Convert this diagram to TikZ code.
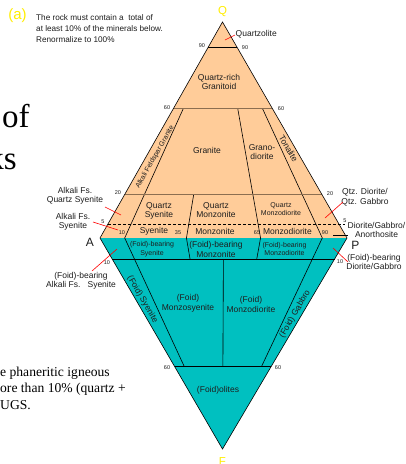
\documentclass[tikz,border=0pt]{standalone}
\usepackage{fontspec}
\setmainfont{Liberation Sans}
\newfontfamily\serifx{Liberation Serif}
\usetikzlibrary{calc}
\definecolor{peach}{RGB}{255,204,153}
\definecolor{tealx}{RGB}{0,192,192}
\definecolor{brownline}{RGB}{140,110,80}
\definecolor{yel}{RGB}{255,238,0}
\definecolor{txt}{RGB}{30,30,30}
\begin{document}
\begin{tikzpicture}[x=1pt,y=-1pt,
  lab/.style={font=\fontsize{8.5}{9.5}\selectfont, text=txt, align=center, inner sep=0pt},
  smalllab/.style={font=\fontsize{7}{8.5}\selectfont, text=txt, align=center, inner sep=0pt},
  num/.style={font=\fontsize{5.5}{6}\selectfont, text=txt, inner sep=0pt},
  corner/.style={font=\fontsize{12}{12}\selectfont, text=txt, inner sep=0pt},
  apex/.style={font=\fontsize{11.5}{12}\selectfont, text=yel, inner sep=0pt},
  leader/.style={red, line width=0.6pt},
  blackleader/.style={black, line width=0.7pt},
  divline/.style={black, line width=0.6pt},
  levline/.style={brownline, line width=0.9pt},
  slide/.style={text=black, inner sep=0pt},
]
\useasboundingbox (0,0) rectangle (405,464);
\fill[white] (0,0) rectangle (405,464);

% corners
\coordinate (A) at (100,238);
\coordinate (P) at (347,238);
\coordinate (Q) at (222.5,22);
\coordinate (F) at (222.5,449);

\fill[peach] (A) -- (P) -- (Q) -- cycle;
\fill[tealx] (A) -- (P) -- (F) -- cycle;

% level points
\coordinate (L90) at ($(A)!0.884!(Q)$); \coordinate (R90) at ($(P)!0.884!(Q)$);
\coordinate (L60) at ($(A)!0.6!(Q)$);   \coordinate (R60) at ($(P)!0.6!(Q)$);
\coordinate (L20) at ($(A)!0.2!(Q)$);   \coordinate (R20) at ($(P)!0.2!(Q)$);
\coordinate (L5)  at ($(A)!0.065!(Q)$); \coordinate (R5)  at ($(P)!0.065!(Q)$);
\coordinate (R5x) at ($(R5)+(6,0)$);
\coordinate (M10) at ($(A)!0.1!(F)$);   \coordinate (N10) at ($(P)!0.1!(F)$);
\coordinate (M60) at ($(A)!0.61!(F)$);  \coordinate (N60) at ($(P)!0.61!(F)$);
% base points
\coordinate (B10) at ($(A)!0.10!(P)$);
\coordinate (B35) at ($(A)!0.35!(P)$);
\coordinate (B50) at ($(A)!0.50!(P)$);
\coordinate (B65) at ($(A)!0.65!(P)$);
\coordinate (B90) at ($(A)!0.90!(P)$);
% division line ends
\coordinate (U10) at ($(B10)!0.6!(Q)$);
\coordinate (U90) at ($(B90)!0.6!(Q)$);
\coordinate (U65) at ($(B65)!0.6!(Q)$);
\coordinate (U35) at ($(B35)!0.2!(Q)$);
\coordinate (D10) at ($(B10)!0.61!(F)$);
\coordinate (D90) at ($(B90)!0.61!(F)$);
\coordinate (D35) at ($(B35)!0.1!(F)$);
\coordinate (D65) at ($(B65)!0.1!(F)$);
\coordinate (D50a) at ($(B50)!0.1!(F)$);
\coordinate (D50b) at ($(B50)!0.61!(F)$);

% lines
\draw[divline] (U10) -- (B10) -- (D10);
\draw[divline] (U90) -- (B90) -- (D90);
\draw[divline] (U65) -- (B65) -- (D65);
\draw[divline] (U35) -- (B35) -- (D35);
\draw[divline] (D50a) -- (D50b);
\draw[black, line width=0.8pt] (L90) -- (R90);
\draw[levline] (L60) -- (R60);
\draw[levline] (L20) -- (R20);
\draw[black, line width=0.7pt, dash pattern=on 3pt off 2pt] (L5) -- (R5x);
\draw[black, line width=0.8pt] (M10) -- (N10);
\draw[black, line width=0.8pt] (M60) -- (N60);
\draw[black, line width=0.6pt] (A) -- (Q) -- (P) -- (F) -- cycle;

% slide text behind
\node[slide, anchor=base west, font=\serifx\fontsize{33}{33}\selectfont] (of) at (2,127) {of};
\node[slide, anchor=base east, font=\serifx\fontsize{33}{33}\selectfont] (ks) at (17,169) {ks};
\node[slide, anchor=base west, font=\serifx\fontsize{13.6}{14}\selectfont] (s1) at (0,376) {e phaneritic igneous};
\node[slide, anchor=base west, font=\serifx\fontsize{13.6}{14}\selectfont] (s2) at (0,392.5) {ore than 10\% (quartz +};
\node[slide, anchor=base west, font=\serifx\fontsize{13.6}{14}\selectfont] (s3) at (0,409) {UGS.};

% header
\node[font=\fontsize{15}{15}\selectfont, text=yel, inner sep=0pt] (a) at (17.5,16) {(a)};
\node[font=\fontsize{8.2}{10.7}\selectfont, text=txt, align=left, inner sep=0pt, anchor=north west] (note) at (36,14.5)
  {The rock must contain a\ \ total of\\at least 10\% of the minerals below.\\Renormalize to 100\%};

% apex labels
\node[apex] (lq) at (222.5,11.5) {Q};
\node[apex] (lf) at (222.5,462) {F};
\node[corner] (la) at (90,242) {A};
\node[corner] (lp) at (355.5,245.5) {P};

% numbers
\node[num] (n90l) at (202,46) {90};
\node[num] (n90r) at (245,47.5) {90};
\node[num] (n60l) at (167,108) {60};
\node[num] (n60r) at (281,109) {60};
\node[num] (n20l) at (118,193) {20};
\node[num] (n20r) at (330,194) {20};
\node[num] (n5l) at (103,222) {5};
\node[num] (n5r) at (345,221) {5};
\node[num] (n10a) at (122,233) {10};
\node[num] (n35) at (178,233) {35};
\node[num] (n65) at (257,232.5) {65};
\node[num] (n90b) at (325,233) {90};
\node[num] (n10l) at (107,263) {10};
\node[num] (n10r) at (340,262) {10};
\node[num] (n60a) at (167,368) {60};
\node[num] (n60b) at (278,368) {60};

% field labels upper
\node[lab, anchor=west] (qzl) at (235.5,34) {Quartzolite};
\node[lab] (qrg) at (219,82) {Quartz-rich\\Granitoid};
\node[lab] (gr) at (207,150) {Granite};
\node[lab] (gd) at (262,152) {Grano-\\diorite};
\node[smalllab, rotate=60.4] (afg) at (155,157) {Alkali Feldspar Granite};
\node[lab, rotate=-60] (ton) at (288.5,148.5) {Tonalite};
\node[lab] (qsy) at (159,211) {Quartz\\Syenite};
\node[lab] (qmz) at (216,210) {Quartz\\Monzonite};
\node[smalllab] (qmd) at (281,209) {Quartz\\Monzodiorite};
\node[lab] (sy) at (154,231.5) {Syenite};
\node[lab] (mz) at (215,231.5) {Monzonite};
\node[lab] (md) at (287.5,231.5) {Monzodiorite};

% outside labels
\node[lab] (afqs) at (75,196) {Alkali Fs.\\Quartz Syenite};
\node[lab] (afs) at (73,222) {Alkali Fs.\\Syenite};
\node[lab] (qdg) at (365,197) {Qtz. Diorite/\\Qtz. Gabbro};
\node[lab] (dga) at (376.5,230) {Diorite/Gabbro/\\Anorthosite};
\node[lab] (fdg) at (374,262) {(Foid)-bearing\\Diorite/Gabbro};
\node[lab] (fafs) at (81,281) {(Foid)-bearing\\Alkali Fs.\ \ \ Syenite};

% field labels lower
\node[smalllab] (fbs) at (152,249) {(Foid)-bearing\\Syenite};
\node[lab] (fbm) at (216,249.5) {(Foid)-bearing\\Monzonite};
\node[smalllab] (fbmd) at (284.5,249) {(Foid)-bearing\\Monzodiorite};
\node[lab, rotate=-60] (fsy) at (142.5,299.5) {(Foid) Syenite};
\node[lab] (fmzs) at (188,303.5) {(Foid)\\Monzosyenite};
\node[lab] (fmzd) at (251,304.5) {(Foid)\\Monzodiorite};
\node[lab, rotate=60] (fgb) at (295,314) {(Foid) Gabbro};
\node[lab] (fol) at (218,390) {(Foid)olites};

% leaders
\coordinate (qzlA) at (225,40);   \coordinate (qzlB) at (235,35);
\coordinate (afqsA) at (105,207); \coordinate (afqsB) at (121,215);
\coordinate (afsA) at (93,222);   \coordinate (afsB) at (118,230);
\coordinate (qdgA) at (325,218);  \coordinate (qdgB) at (343,202);
\coordinate (dgaA) at (333,235);  \coordinate (dgaB) at (348,235);
\coordinate (fdgA) at (333,248);  \coordinate (fdgB) at (348,262);
\coordinate (fafsA) at (117,249); \coordinate (fafsB) at (92,271);
\draw[leader] (qzlA) -- (qzlB);
\draw[leader] (afqsA) -- (afqsB);
\draw[leader] (afsA) -- (afsB);
\draw[leader] (qdgA) -- (qdgB);
\draw[blackleader] (dgaA) -- (dgaB);
\draw[leader] (fdgA) -- (fdgB);
\draw[leader] (fafsA) -- (fafsB);
\end{tikzpicture}
\end{document}
